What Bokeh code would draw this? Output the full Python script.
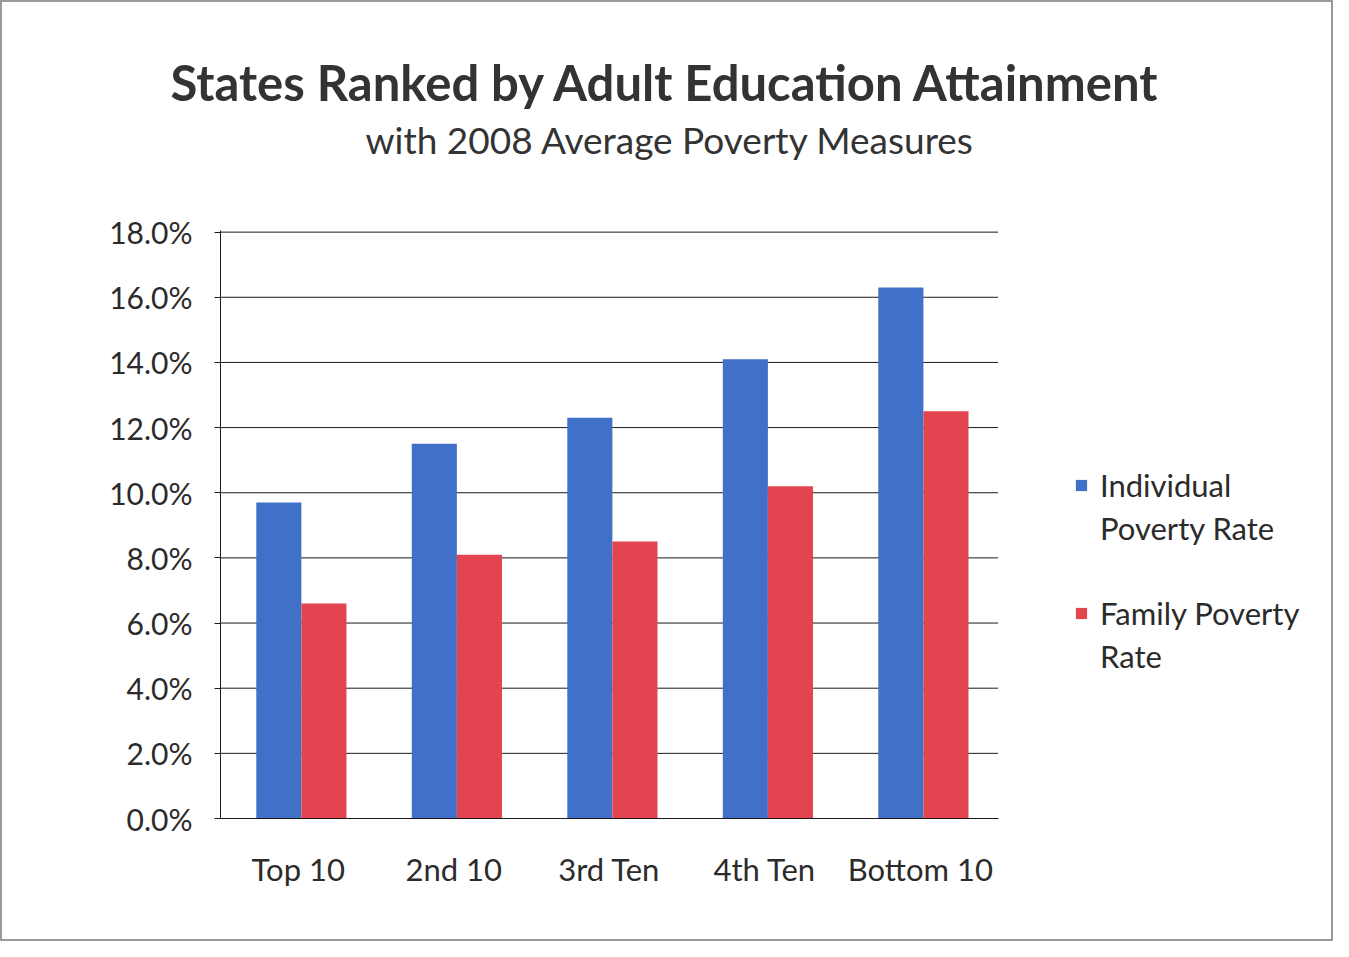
from bokeh.plotting import figure
from bokeh.models import (Range1d, PrintfTickFormatter, Title, Legend, LegendItem, FixedTicker, ColumnDataSource)
from bokeh.embed import file_html
from bokeh.resources import INLINE

categories = ["Top 10", "2nd 10", "3rd Ten", "4th Ten", "Bottom 10"]
individual = [9.7, 11.5, 12.3, 14.1, 16.3]
family = [6.6, 8.1, 8.5, 10.2, 12.5]
y_ticks = [0, 2, 4, 6, 8, 10, 12, 14, 16, 18]
legend_lines = ["Individual", "Poverty Rate", "", "Family Poverty", "Rate"]
title_text = "States Ranked by Adult Education Attainment"
subtitle_text = "with 2008 Average Poverty Measures"

BLUE = "#4170C8"
RED = "#E2454F"
FONT = "Lato"
TXT = "#2b2b2b"
BAR_W = 0.29

n = len(categories)
centers = [i + 0.5 for i in range(n)]

W, H = 1333, 941
# x range extends past the categories so the legend area lies inside the frame
p = figure(x_range=Range1d(0, 7.17), y_range=Range1d(0, 18.05),
           width=W, height=H, output_backend="svg", toolbar_location=None,
           min_border_left=218, min_border_right=0, min_border_top=228, min_border_bottom=125)
p.styles = {"border": "2px solid #9a9a9a", "box-sizing": "border-box"}

src = ColumnDataSource(dict(xc=centers, ind=individual, fam=family,
                            xi=[c - BAR_W / 2 + 0.02 for c in centers],
                            xf=[c + BAR_W / 2 + 0.02 for c in centers]))

# horizontal gridlines restricted to the category area
p.segment(x0=[0] * (len(y_ticks) - 1), x1=[n] * (len(y_ticks) - 1), y0=y_ticks[1:], y1=y_ticks[1:],
          line_color="#1a1a1a", line_width=1)

r1 = p.vbar(x="xi", top="ind", width=BAR_W, source=src, fill_color=BLUE, line_color=None)
r2 = p.vbar(x="xf", top="fam", width=BAR_W, source=src, fill_color=RED, line_color=None)
# empty renderer used only for the text-only legend lines
blank = p.vbar(x=[], top=[], width=BAR_W, fill_alpha=0, line_alpha=0)

p.outline_line_color = None
p.xgrid.visible = False
p.ygrid.visible = False
p.yaxis.ticker = FixedTicker(ticks=y_ticks)
p.yaxis.formatter = PrintfTickFormatter(format="%.1f%%")
p.yaxis.axis_line_color = "#1a1a1a"
p.yaxis.major_tick_line_color = "#1a1a1a"
p.yaxis.major_tick_out = 6
p.yaxis.major_tick_in = 0
p.yaxis.minor_tick_line_color = None
p.yaxis.major_label_text_font = FONT
p.yaxis.major_label_text_font_size = "30px"
p.yaxis.major_label_text_color = TXT
p.yaxis.major_label_standoff = 22
p.xaxis.ticker = FixedTicker(ticks=centers)
p.xaxis.major_label_overrides = {c: lab for c, lab in zip(centers, categories)}
p.xaxis.bounds = (0, n)
p.xaxis.axis_line_color = "#1a1a1a"
p.xaxis.major_tick_line_color = None
p.xaxis.minor_tick_line_color = None
p.xaxis.major_label_text_font = FONT
p.xaxis.major_label_text_font_size = "31px"
p.xaxis.major_label_text_color = TXT
p.xaxis.major_label_standoff = 25

p.title = None
p.add_layout(Title(text=subtitle_text, align="left", offset=145, standoff=138,
                   text_font=FONT, text_font_size="37px", text_font_style="normal",
                   text_color="#333333"), "above")
p.add_layout(Title(text=title_text, align="left", offset=-50, standoff=-130,
                   text_font=FONT, text_font_size="49px", text_font_style="bold",
                   text_color="#333333"), "above")

item_renderers = [r1, blank, blank, r2, blank]
legend = Legend(items=[LegendItem(label=t, renderers=[r]) for t, r in zip(legend_lines, item_renderers)],
                location=(854, 143), border_line_color=None, background_fill_alpha=0,
                label_text_font=FONT, label_text_font_size="31px", label_text_color=TXT,
                glyph_width=14, glyph_height=14, label_height=37,
                spacing=5, padding=0, margin=0, label_standoff=12)
p.add_layout(legend, "center")

open("out.html", "w").write(file_html(p, INLINE))
